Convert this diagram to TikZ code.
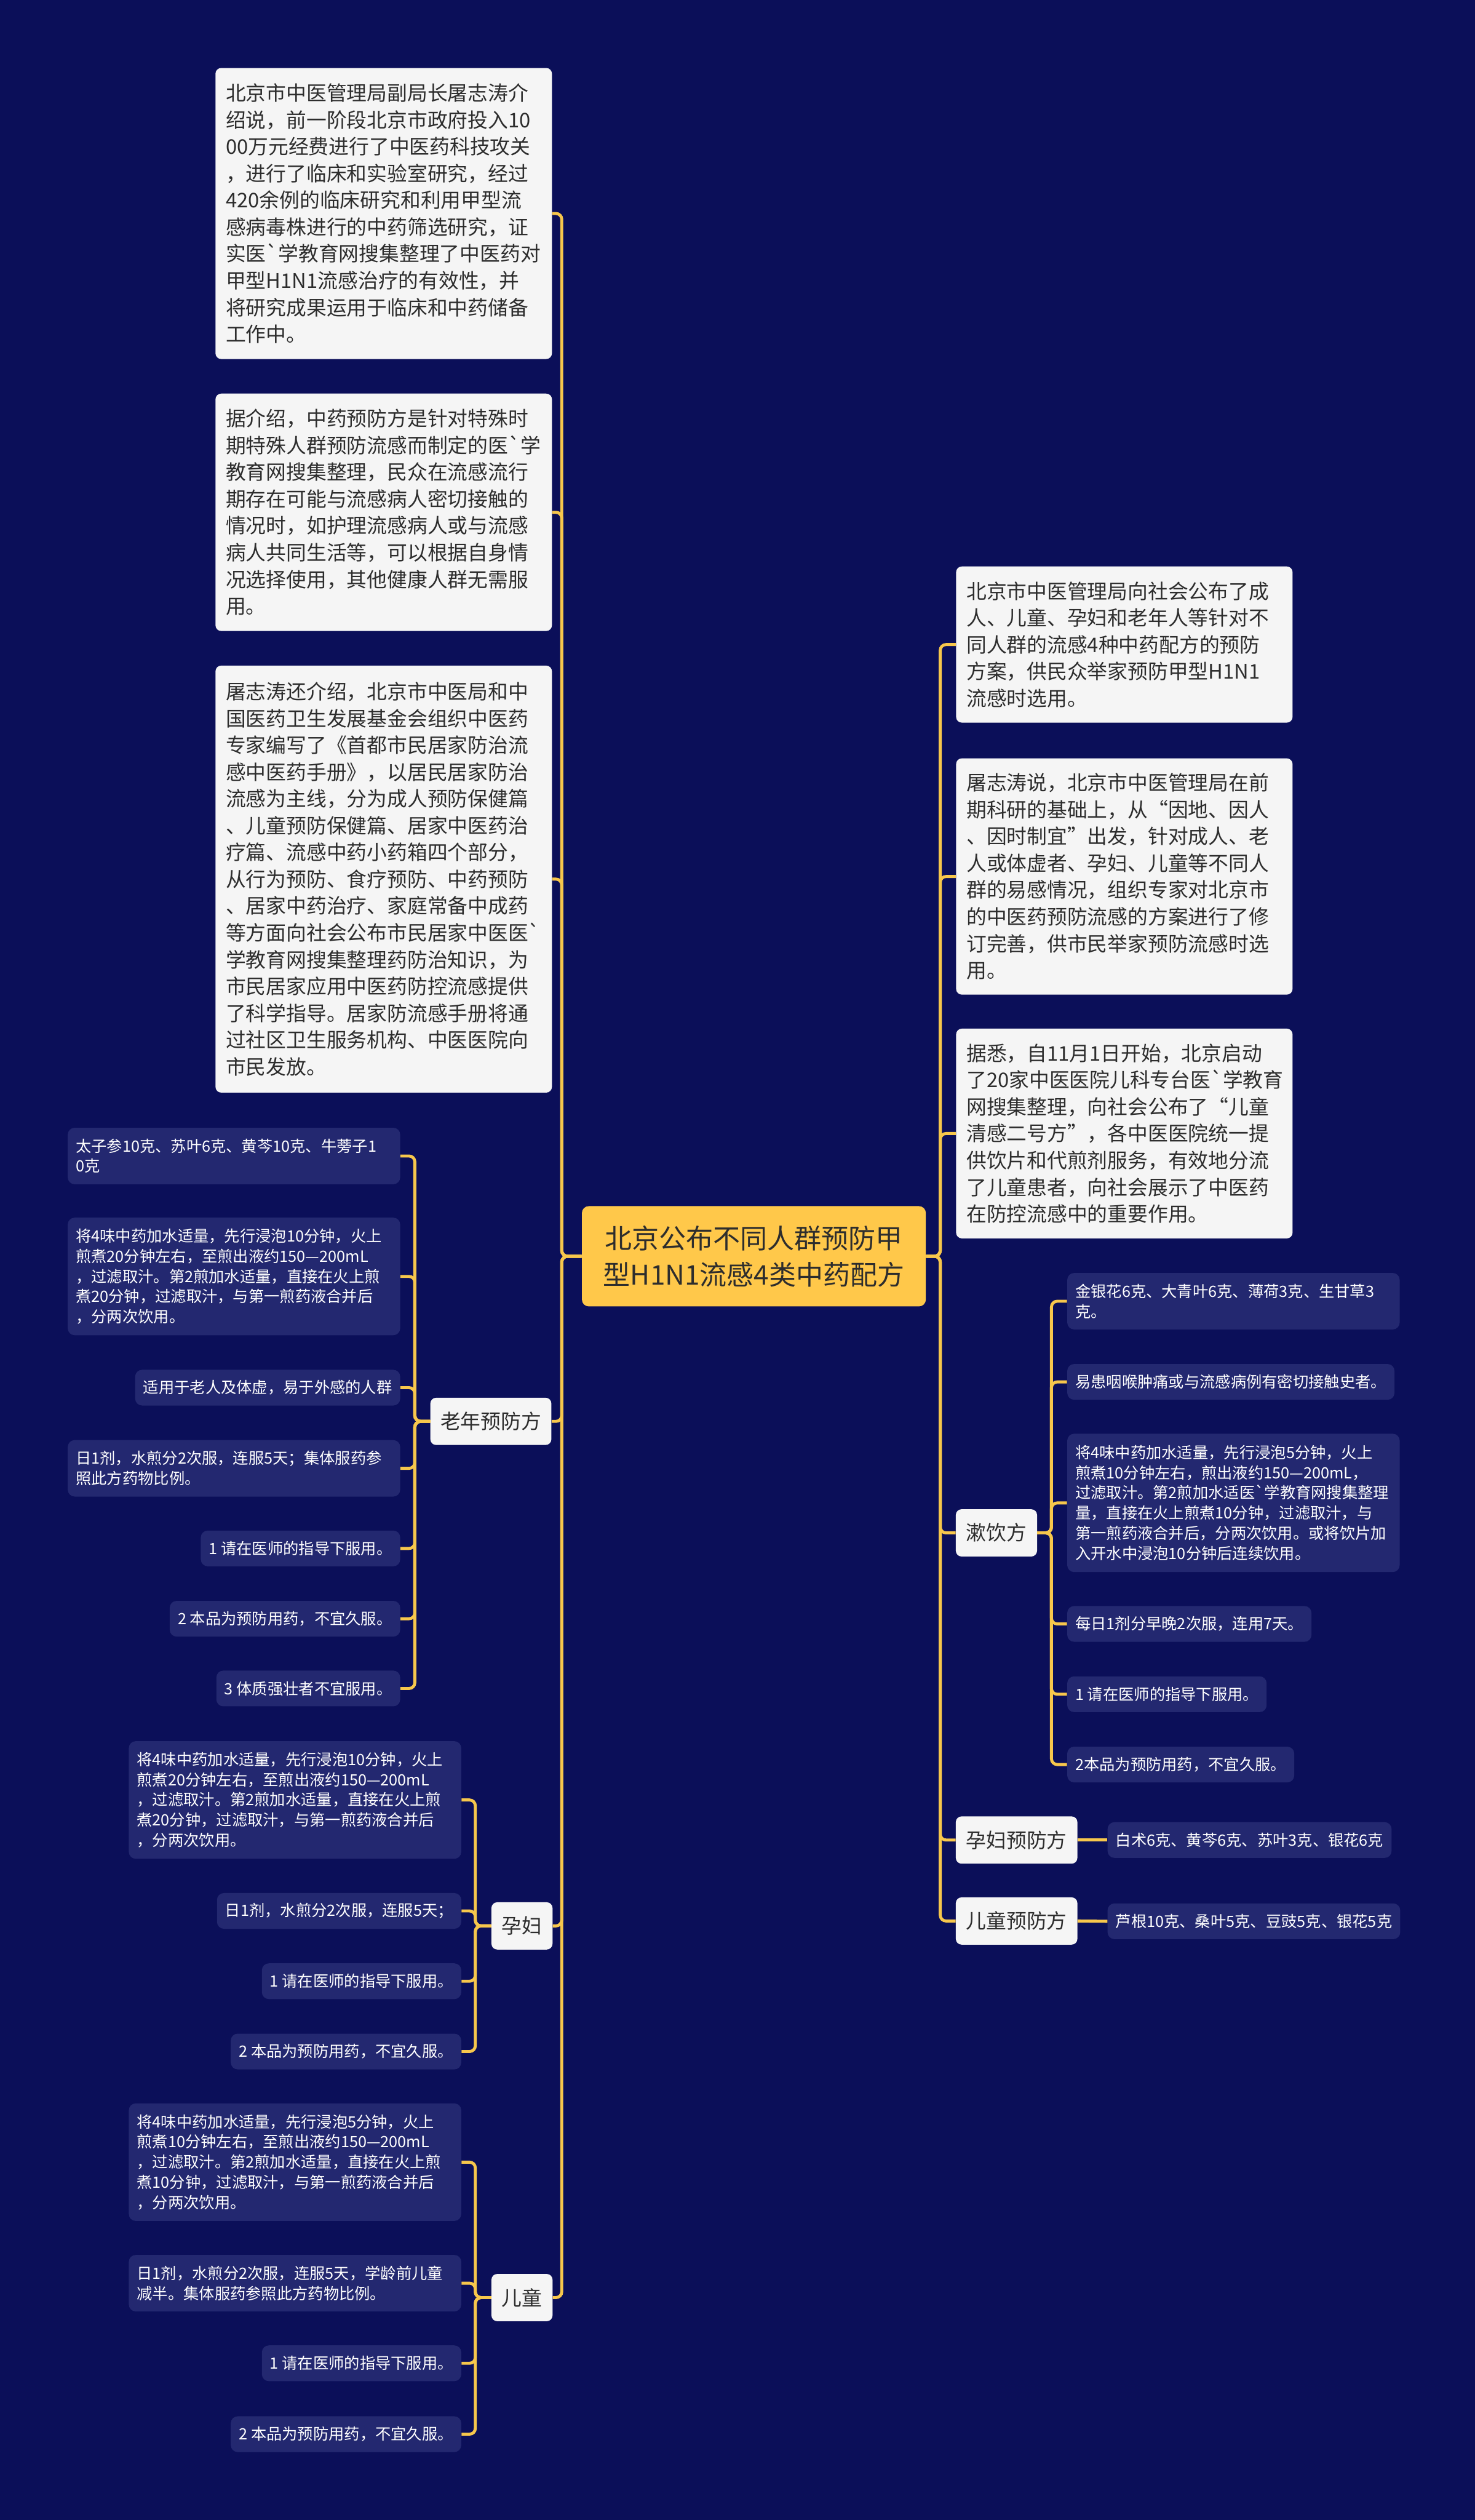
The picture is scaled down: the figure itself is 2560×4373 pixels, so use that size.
\documentclass[tikz,border=0pt]{standalone}
\usepackage{fontspec}
\newfontfamily\cjk{Noto Sans CJK SC}
\definecolor{bg}{RGB}{11,15,89}
\definecolor{leafc}{RGB}{35,40,112}
\definecolor{boxw}{RGB}{245,245,245}
\definecolor{gold}{RGB}{247,199,76}
\definecolor{rootc}{RGB}{255,200,74}
\definecolor{txt}{RGB}{45,45,45}
\begin{document}
\begin{tikzpicture}[x=0.5pt,y=-0.5pt,
  bigbox/.style={fill=boxw, rounded corners=5pt, text=txt,
    font=\cjk\fontsize{17.5pt}{23.25pt}\selectfont, align=left,
    inner xsep=9pt, inner ysep=0pt, text width=274pt},
  rootbox/.style={fill=rootc, rounded corners=6pt, text=txt,
    font=\cjk\fontsize{23.5pt}{31.5pt}\selectfont, align=center,
    inner sep=0pt, minimum width=298.5pt, minimum height=87pt},
  midbox/.style={fill=boxw, rounded corners=5pt, text=txt,
    font=\cjk\fontsize{17.5pt}{21pt}\selectfont,
    inner sep=0pt, minimum height=41pt},
  leafbox/.style={fill=leafc, rounded corners=6pt, text=white,
    font=\cjk\fontsize{13.5pt}{17.5pt}\selectfont, align=left,
    inner xsep=7pt, inner ysep=0pt, minimum height=31pt},
  multi/.style={text width=274.5pt},
  conn/.style={draw=gold, line width=2.6pt, rounded corners=5pt}]

\fill[bg] (0,0) rectangle (2560,4373);
\useasboundingbox (0,0) rectangle (2560,4373);

% root
\node[rootbox] (root) at (1308.5,2180) {北京公布不同人群预防甲\\型H1N1流感4类中药配方};

% left big boxes
\node[bigbox, minimum height=252.5pt] (A) at (666,370.5) {北京市中医管理局副局长屠志涛介\\绍说，前一阶段北京市政府投入10\\00万元经费进行了中医药科技攻关\\，进行了临床和实验室研究，经过\\420余例的临床研究和利用甲型流\\感病毒株进行的中药筛选研究，证\\实医`学教育网搜集整理了中医药对\\甲型H1N1流感治疗的有效性，并\\将研究成果运用于临床和中药储备\\工作中。};
\node[bigbox, minimum height=206pt] (B) at (666,889) {据介绍，中药预防方是针对特殊时\\期特殊人群预防流感而制定的医`学\\教育网搜集整理，民众在流感流行\\期存在可能与流感病人密切接触的\\情况时，如护理流感病人或与流感\\病人共同生活等，可以根据自身情\\况选择使用，其他健康人群无需服\\用。};
\node[bigbox, minimum height=370.5pt] (C) at (666,1525.5) {屠志涛还介绍，北京市中医局和中\\国医药卫生发展基金会组织中医药\\专家编写了《首都市民居家防治流\\感中医药手册》，以居民居家防治\\流感为主线，分为成人预防保健篇\\、儿童预防保健篇、居家中医药治\\疗篇、流感中药小药箱四个部分，\\从行为预防、食疗预防、中药预防\\、居家中药治疗、家庭常备中成药\\等方面向社会公布市民居家中医医`\\学教育网搜集整理药防治知识，为\\市民居家应用中医药防控流感提供\\了科学指导。居家防流感手册将通\\过社区卫生服务机构、中医医院向\\市民发放。};

% right big boxes
\node[bigbox, minimum height=135.5pt] (R1) at (1951.5,1118.5) {北京市中医管理局向社会公布了成\\人、儿童、孕妇和老年人等针对不\\同人群的流感4种中药配方的预防\\方案，供民众举家预防甲型H1N1\\流感时选用。};
\node[bigbox, minimum height=205pt] (R2) at (1951.5,1521) {屠志涛说，北京市中医管理局在前\\期科研的基础上，从“因地、因人\\、因时制宜”出发，针对成人、老\\人或体虚者、孕妇、儿童等不同人\\群的易感情况，组织专家对北京市\\的中医药预防流感的方案进行了修\\订完善，供市民举家预防流感时选\\用。};
\node[bigbox, minimum height=182pt] (R3) at (1951.5,1967) {据悉，自11月1日开始，北京启动\\了20家中医医院儿科专台医`学教育\\网搜集整理，向社会公布了“儿童\\清感二号方”，各中医医院统一提\\供饮片和代煎剂服务，有效地分流\\了儿童患者，向社会展示了中医药\\在防控流感中的重要作用。};

% second level
\node[midbox, minimum width=105pt] (Old) at (852,2466.5) {老年预防方};
\node[midbox, minimum width=53pt] (YF) at (906,3342) {孕妇};
\node[midbox, minimum width=53pt] (ET) at (906,3987) {儿童};
\node[midbox, minimum width=70.5pt] (SY) at (1729.5,2660) {漱饮方};
\node[midbox, minimum width=105.5pt] (YFR) at (1764.5,3193) {孕妇预防方};
\node[midbox, minimum width=105.5pt] (ETR) at (1764.5,3333.5) {儿童预防方};

% leaves of 老年预防方
\node[leafbox, multi, minimum height=49pt, anchor=east] (L1) at (695,2006) {太子参10克、苏叶6克、黄芩10克、牛蒡子1\\0克};
\node[leafbox, multi, minimum height=102pt, anchor=east] (L2) at (695,2215) {将4味中药加水适量，先行浸泡10分钟，火上\\煎煮20分钟左右，至煎出液约150—200mL\\，过滤取汁。第2煎加水适量，直接在火上煎\\煮20分钟，过滤取汁，与第一煎药液合并后\\，分两次饮用。};
\node[leafbox, anchor=east] (L3) at (695,2408) {适用于老人及体虚，易于外感的人群};
\node[leafbox, multi, minimum height=49pt, anchor=east] (L4) at (695,2548) {日1剂，水煎分2次服，连服5天；集体服药参\\照此方药物比例。};
\node[leafbox, anchor=east] (L5) at (695,2687) {1 请在医师的指导下服用。};
\node[leafbox, anchor=east] (L6) at (695,2809) {2 本品为预防用药，不宜久服。};
\node[leafbox, anchor=east] (L7) at (695,2930) {3 体质强壮者不宜服用。};

% leaves of 孕妇
\node[leafbox, multi, minimum height=102pt, anchor=east] (P1) at (801,3123.5) {将4味中药加水适量，先行浸泡10分钟，火上\\煎煮20分钟左右，至煎出液约150—200mL\\，过滤取汁。第2煎加水适量，直接在火上煎\\煮20分钟，过滤取汁，与第一煎药液合并后\\，分两次饮用。};
\node[leafbox, anchor=east] (P2) at (801,3316) {日1剂，水煎分2次服，连服5天；};
\node[leafbox, anchor=east] (P3) at (801,3438) {1 请在医师的指导下服用。};
\node[leafbox, anchor=east] (P4) at (801,3560) {2 本品为预防用药，不宜久服。};

% leaves of 儿童
\node[leafbox, multi, minimum height=102pt, anchor=east] (C1) at (801,3752) {将4味中药加水适量，先行浸泡5分钟，火上\\煎煮10分钟左右，至煎出液约150—200mL\\，过滤取汁。第2煎加水适量，直接在火上煎\\煮10分钟，过滤取汁，与第一煎药液合并后\\，分两次饮用。};
\node[leafbox, multi, minimum height=49pt, anchor=east] (C2) at (801,3962) {日1剂，水煎分2次服，连服5天，学龄前儿童\\减半。集体服药参照此方药物比例。};
\node[leafbox, anchor=east] (C3) at (801,4101) {1 请在医师的指导下服用。};
\node[leafbox, anchor=east] (C4) at (801,4224) {2 本品为预防用药，不宜久服。};

% leaves of 漱饮方
\node[leafbox, multi, minimum height=49pt, anchor=west] (S1) at (1852,2258) {金银花6克、大青叶6克、薄荷3克、生甘草3\\克。};
\node[leafbox, anchor=west] (S2) at (1852,2398) {易患咽喉肿痛或与流感病例有密切接触史者。};
\node[leafbox, multi, minimum height=120pt, anchor=west] (S3) at (1852,2608) {将4味中药加水适量，先行浸泡5分钟，火上\\煎煮10分钟左右，煎出液约150—200mL，\\过滤取汁。第2煎加水适医`学教育网搜集整理\\量，直接在火上煎煮10分钟，过滤取汁，与\\第一煎药液合并后，分两次饮用。或将饮片加\\入开水中浸泡10分钟后连续饮用。};
\node[leafbox, anchor=west] (S4) at (1852,2818) {每日1剂分早晚2次服，连用7天。};
\node[leafbox, anchor=west] (S5) at (1852,2940) {1 请在医师的指导下服用。};
\node[leafbox, anchor=west] (S6) at (1852,3062) {2本品为预防用药，不宜久服。};

\node[leafbox, anchor=west] (YL) at (1922,3193) {白术6克、黄芩6克、苏叶3克、银花6克};
\node[leafbox, anchor=west] (EL) at (1922,3334) {芦根10克、桑叶5克、豆豉5克、银花5克};

% trunk positions
\coordinate (Ltr) at (975,0);
\coordinate (Rtr) at (1632,0);
\coordinate (Oldtr) at (720,0);
\coordinate (YFtr) at (825,0);
\coordinate (ETtr) at (825,0);
\coordinate (SYtr) at (1825,0);

% connectors
\foreach \cn in {A,B,C,Old,YF,ET}
  \draw[conn] (root.west) -- (root.west -| Ltr) |- (\cn.east);
\foreach \cn in {R1,R2,R3,SY,YFR,ETR}
  \draw[conn] (root.east) -- (root.east -| Rtr) |- (\cn.west);
\foreach \cn in {L1,L2,L3,L4,L5,L6,L7}
  \draw[conn] (Old.west) -- (Old.west -| Oldtr) |- (\cn.east);
\foreach \cn in {P1,P2,P3,P4}
  \draw[conn] (YF.west) -- (YF.west -| YFtr) |- (\cn.east);
\foreach \cn in {C1,C2,C3,C4}
  \draw[conn] (ET.west) -- (ET.west -| ETtr) |- (\cn.east);
\foreach \cn in {S1,S2,S3,S4,S5,S6}
  \draw[conn] (SY.east) -- (SY.east -| SYtr) |- (\cn.west);
\draw[conn] (YFR.east) -- (YL.west);
\draw[conn] (ETR.east) -- (EL.west);
\end{tikzpicture}
\end{document}
